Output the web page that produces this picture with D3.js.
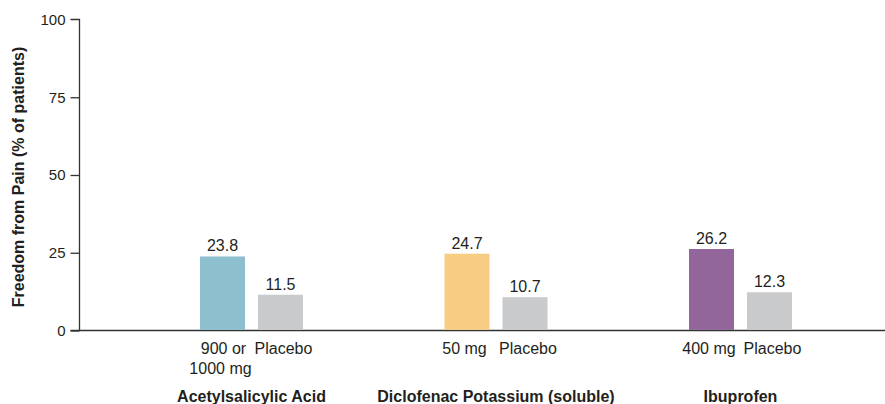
<!DOCTYPE html>
<html>
<head>
<meta charset="utf-8">
<script src="https://cdn.jsdelivr.net/npm/d3@7"></script>
<style>
  html, body { margin: 0; padding: 0; background: #fff; }
  svg { display: block; font-family: "Liberation Sans", Arial, Helvetica, sans-serif; }
</style>
</head>
<body>
<svg id="chart" width="885" height="404"></svg>
<script>
const groups = ["Acetylsalicylic Acid", "Diclofenac Potassium (soluble)", "Ibuprofen"];
const doseLabels = [["900 or", "1000 mg"], ["50 mg"], ["400 mg"]];
const placeboLabel = "Placebo";
const drugValues = [23.8, 24.7, 26.2];
const placeboValues = [11.5, 10.7, 12.3];
const drugColors = ["#8dbfcf", "#f6cd82", "#92659b"];
const placeboColor = "#c8cacc";
const yTicks = [0, 25, 50, 75, 100];
const yTitle = "Freedom from Pain (% of patients)";

const svg = d3.select("#chart");
const textColor = "#231f20";
const axisX = 79.5, yTop = 19.5, yBottom = 330.5;

const y = d3.scaleLinear().domain([0, 100]).range([yBottom, yTop]);
const xGroup = d3.scaleBand().domain(groups).range([129.25, 862.75]).padding(0);
const xInner = d3.scaleBand().domain(["drug", "placebo"]).range([-51.5, 51.5]).paddingInner(0.224).paddingOuter(0);

// y axis
const yAxis = d3.axisLeft(y).tickValues(yTicks).tickSize(9).tickPadding(5).tickFormat(d3.format("d"));
const gy = svg.append("g").attr("transform", `translate(${axisX},0)`).call(yAxis);
gy.select(".domain").attr("d", `M-9,${yTop}H0V${yBottom}`).attr("stroke", "#333").attr("stroke-width", 1.3);
gy.selectAll(".tick line").attr("stroke", "#333").attr("stroke-width", 1.3);
gy.selectAll(".tick text").attr("fill", textColor).attr("font-size", 15).style("font-family", "inherit");
gy.selectAll(".tick").filter(d => d === 100).select("line").remove();

// x baseline
svg.append("line")
  .attr("x1", axisX - 9).attr("x2", 885)
  .attr("y1", y(0)).attr("y2", y(0))
  .attr("stroke", "#333").attr("stroke-width", 1.3);

// y title
svg.append("text")
  .attr("transform", `translate(24,177) rotate(-90)`)
  .attr("text-anchor", "middle")
  .attr("font-size", 16).attr("font-weight", "bold").attr("fill", textColor)
  .text(yTitle);

// bars
const rows = groups.map((g, i) => ([
  { g, key: "drug", v: drugValues[i], color: drugColors[i], labels: doseLabels[i] },
  { g, key: "placebo", v: placeboValues[i], color: placeboColor, labels: [placeboLabel] }
])).flat();

const bx = d => xGroup(d.g) + xGroup.bandwidth() / 2 + xInner(d.key);
const labelShift = d => d.key === "placebo" ? 3 : (d.labels.length > 1 ? 1 : -2.5);

svg.append("g").selectAll("rect").data(rows).join("rect")
  .attr("x", bx)
  .attr("width", xInner.bandwidth())
  .attr("y", d => y(d.v))
  .attr("height", d => y(0) - y(d.v) - 0.6)
  .attr("fill", d => d.color);

// value labels
svg.append("g").selectAll("text").data(rows).join("text")
  .attr("x", d => bx(d) + xInner.bandwidth() / 2)
  .attr("y", d => y(d.v) - 5)
  .attr("text-anchor", "middle")
  .attr("font-size", 16).attr("fill", textColor)
  .text(d => d.v.toFixed(1));

// category labels
const cat = svg.append("g").selectAll("text").data(rows).join("text")
  .attr("y", 354)
  .attr("text-anchor", "middle")
  .attr("font-size", 16).attr("fill", textColor);
cat.selectAll("tspan").data(d => d.labels.map((t, j) => ({ t, j, x: bx(d) + xInner.bandwidth() / 2 + labelShift(d) + (j > 0 ? -3 : 0) }))).join("tspan")
  .attr("x", t => t.x)
  .attr("dy", t => t.j === 0 ? 0 : 19.5)
  .text(t => t.t);

// group labels
svg.append("g").selectAll("text").data(groups).join("text")
  .attr("x", g => xGroup(g) + xGroup.bandwidth() / 2)
  .attr("y", 401.5)
  .attr("text-anchor", "middle")
  .attr("font-size", 16).attr("font-weight", "bold").attr("fill", textColor)
  .text(g => g);
</script>
</body>
</html>
